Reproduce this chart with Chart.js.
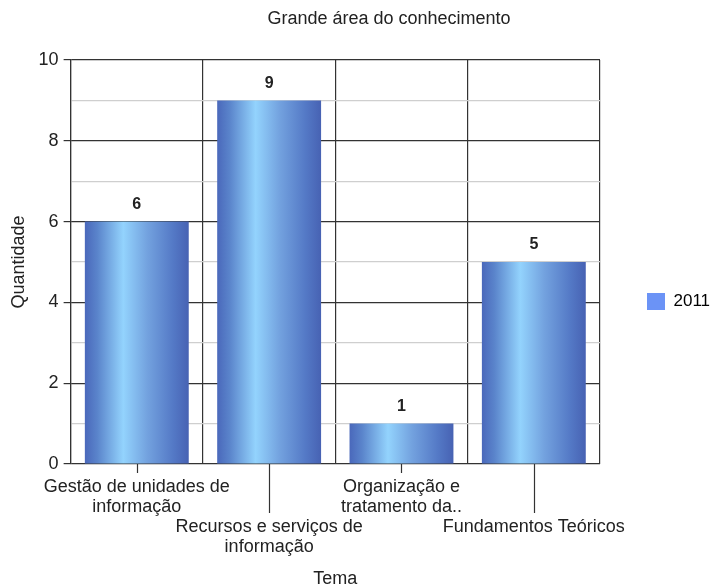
<!DOCTYPE html>
<html>
<head>
<meta charset="utf-8">
<script src="https://cdn.jsdelivr.net/npm/chart.js@4.4.1/dist/chart.umd.min.js"></script>
<style>
  html, body { margin: 0; padding: 0; background: #fff; }
  #wrap { width: 713px; height: 586px; }
</style>
</head>
<body>
<div id="wrap"><canvas id="chart"></canvas></div>
<script>
const chartTitle = 'Grande área do conhecimento';
const seriesLabel = '2011';
// staggered labels: leading blank lines push every second one down
const categories = [
  ['Gestão de unidades de', 'informação'],
  ['', '', 'Recursos e serviços de', 'informação'],
  ['Organização e', 'tratamento da..'],
  ['', '', 'Fundamentos Teóricos']
];
const values2011 = [6, 9, 1, 5];
const yTicks = [0, 2, 4, 6, 8, 10];

const FONT = "'Liberation Sans', Arial, sans-serif";
const TEXT = '#222';

// horizontal shading across each bar
const barShade = {
  id: 'barShade',
  beforeDatasetsDraw(chart) {
    const ctx = chart.ctx;
    chart.getDatasetMeta(0).data.forEach(bar => {
      const x0 = bar.x - bar.width / 2;
      const g = ctx.createLinearGradient(x0, 0, x0 + bar.width, 0);
      g.addColorStop(0, '#4a68bb');
      g.addColorStop(0.12, '#5a84cb');
      g.addColorStop(0.37, '#93d3fd');
      g.addColorStop(0.6, '#73a2df');
      g.addColorStop(0.85, '#5479c6');
      g.addColorStop(1, '#4762b3');
      bar.options = Object.assign({}, bar.options, { backgroundColor: g });
    });
  }
};

// value above each bar, title, and the long x tick lines
const extras = {
  id: 'extras',
  afterDraw(chart) {
    const ctx = chart.ctx;
    const x = chart.scales.x;
    const y = chart.scales.y;
    ctx.save();

    ctx.fillStyle = TEXT;
    ctx.font = 'bold 16px ' + FONT;
    ctx.textAlign = 'center';
    ctx.textBaseline = 'middle';
    const ds = chart.data.datasets[0];
    chart.getDatasetMeta(0).data.forEach((bar, i) => {
      ctx.fillText(String(ds.data[i]), bar.x, bar.y - 17);
    });

    ctx.font = '18px ' + FONT;
    ctx.fillText(chartTitle, 389, 19);

    ctx.strokeStyle = '#333';
    ctx.lineWidth = 1.2;
    categories.forEach((c, i) => {
      const px = Math.round(x.getPixelForTick(i)) + 0.5;
      const len = i % 2 ? 49 : 9;
      ctx.beginPath();
      ctx.moveTo(px, y.bottom);
      ctx.lineTo(px, y.bottom + len);
      ctx.stroke();
    });
    ctx.restore();
  }
};

new Chart(document.getElementById('chart'), {
  type: 'bar',
  data: {
    labels: categories,
    datasets: [{
      label: seriesLabel,
      data: values2011,
      backgroundColor: '#6b93f6',
      borderWidth: 0,
      barPercentage: 0.785,
      categoryPercentage: 1
    }]
  },
  options: {
    responsive: true,
    maintainAspectRatio: false,
    animation: false,
    layout: { padding: { top: 17, right: 0, bottom: 0, left: 0 } },
    plugins: {
      title: { display: false },
      tooltip: { enabled: false },
      legend: {
        position: 'right',
        maxWidth: 113,
        labels: {
          boxWidth: 18,
          boxHeight: 17,
          padding: 47,
          color: TEXT,
          font: { family: FONT, size: 17 },
          generateLabels(chart) {
            return [{
              text: seriesLabel,
              fillStyle: '#6b93f6',
              strokeStyle: '#6b93f6',
              lineWidth: 0,
              datasetIndex: 0
            }];
          }
        }
      }
    },
    scales: {
      x: {
        offset: true,
        grid: { offset: true, color: '#333', lineWidth: 1.2, drawTicks: false },
        border: { display: false },
        ticks: {
          color: TEXT,
          padding: 13,
          maxRotation: 0,
          autoSkip: false,
          font: { family: FONT, size: 18, lineHeight: 1.111 }
        },
        title: {
          display: true,
          text: 'Tema',
          color: TEXT,
          font: { family: FONT, size: 18, lineHeight: 1 },
          padding: { top: 0, bottom: -2 }
        }
      },
      y: {
        min: 0,
        max: 10,
        // leave room above the plot for the chart title
        afterFit(scale) { scale.paddingTop = 60; },
        border: { color: '#333', width: 1.2 },
        grid: {
          lineWidth: 1.2,
          tickLength: 7,
          color: c => (c.tick.value % 2 === 0 ? '#333' : '#cfcfcf'),
          tickColor: c => (c.tick.value % 2 === 0 ? '#333' : 'rgba(0,0,0,0)')
        },
        ticks: {
          stepSize: 1,
          padding: 5,
          color: TEXT,
          font: { family: FONT, size: 18 },
          callback: v => (yTicks.includes(v) ? String(v) : '')
        },
        title: {
          display: true,
          text: 'Quantidade',
          color: TEXT,
          font: { family: FONT, size: 18 },
          padding: { top: 8, bottom: 4 }
        }
      }
    }
  },
  plugins: [barShade, extras]
});
</script>
</body>
</html>
